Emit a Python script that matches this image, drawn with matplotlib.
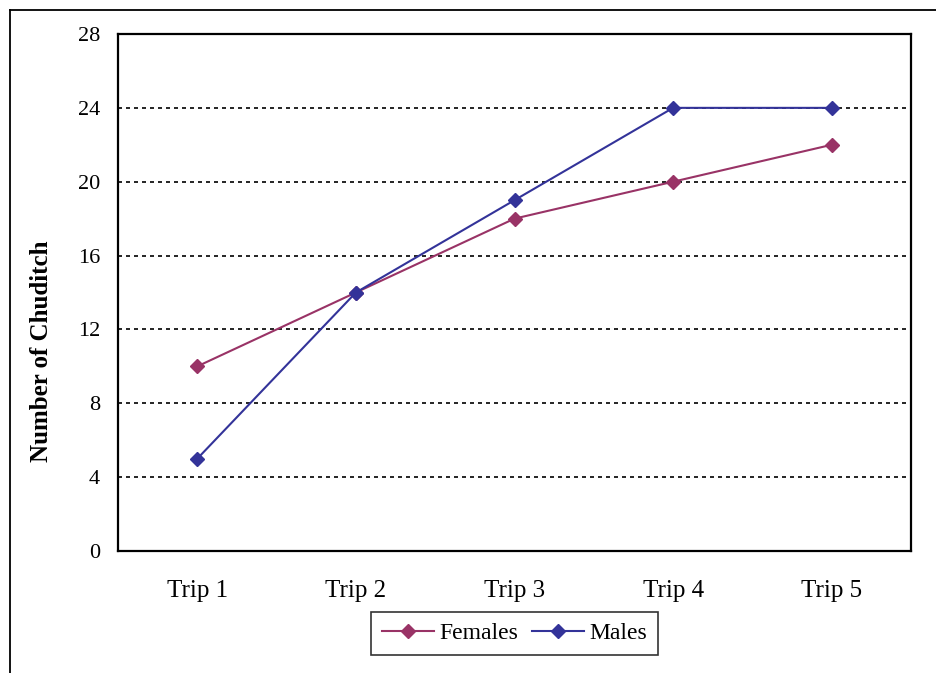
import matplotlib.pyplot as plt
from matplotlib.lines import Line2D

trips = ["Trip 1", "Trip 2", "Trip 3", "Trip 4", "Trip 5"]
females = [10, 14, 18, 20, 22]
males = [5, 14, 19, 24, 24]
y_ticks = [0, 4, 8, 12, 16, 20, 24, 28]

plt.rcParams['font.family'] = ['Liberation Serif', 'DejaVu Serif']

fig = plt.figure(figsize=(9.36, 6.73), dpi=100)
ax = fig.add_axes([118 / 936, 1 - 551 / 673, (911 - 118) / 936, (551 - 34) / 673])

x = list(range(1, len(trips) + 1))
ax.plot(x, females, color='#993366', marker='D', markersize=7, linewidth=1.5, label='Females')
ax.plot(x, males, color='#333399', marker='D', markersize=7, linewidth=1.5, label='Males')

ax.set_xlim(0.5, len(trips) + 0.5)
ax.set_ylim(0, 28)
ax.set_xticks(x)
ax.set_xticklabels(trips)
ax.set_yticks(y_ticks)
ax.tick_params(axis='x', length=0, labelsize=18, pad=21)
ax.tick_params(axis='y', length=0, labelsize=16, pad=13)
ax.yaxis.grid(True, color='black', linestyle=(0, (2.4, 2.4)), linewidth=1.2)
ax.set_axisbelow(True)
for sp in ax.spines.values():
    sp.set_linewidth(1.6)

# y label sits a bit lower than the axes centre, like the original
fig.text(42 / 936, 1 - 351 / 673, 'Number of Chuditch', rotation=90, fontsize=18,
         fontweight='bold', ha='center', va='center')

leg = ax.legend(loc='upper center', bbox_to_anchor=(0.5, -0.118), ncol=2, fontsize=17,
                frameon=True, fancybox=False, edgecolor='black', handlelength=2.2,
                columnspacing=0.55, handletextpad=0.25, borderpad=0.45, borderaxespad=0)
leg.get_frame().set_linewidth(1.2)

# outer chart frame
fig.add_artist(Line2D([10 / 936, 10 / 936], [0, 1 - 10 / 673], color='black', linewidth=1.3,
                      transform=fig.transFigure))
fig.add_artist(Line2D([10 / 936, 1], [1 - 10 / 673, 1 - 10 / 673], color='black', linewidth=1.3,
                      transform=fig.transFigure))

fig.savefig('out.png', dpi=100)
